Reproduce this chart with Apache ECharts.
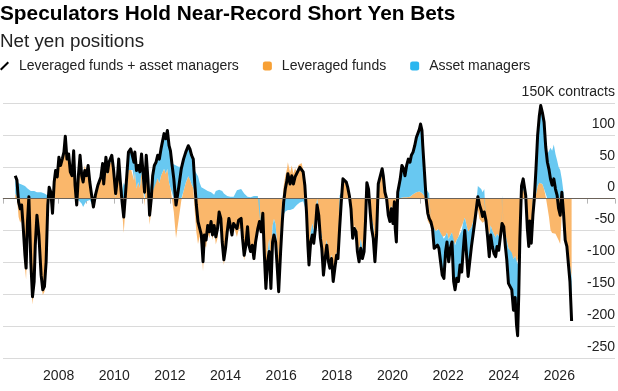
<!DOCTYPE html>
<html>
<head>
<meta charset="utf-8">
<script src="https://cdn.jsdelivr.net/npm/echarts@6/dist/echarts.min.js"></script>
<style>
  html, body { margin: 0; padding: 0; background: #fff; }
  #chart { width: 618px; height: 391px; }
</style>
</head>
<body>
<div id="chart"></div>
<script>
// net yen positions, thousands of contracts (roughly every 3 weeks)
var dates = [
  2006.44, 2006.50, 2006.56, 2006.62, 2006.67, 2006.73, 2006.79, 2006.83, 2006.88, 2006.93,
  2007.00, 2007.06, 2007.12, 2007.16, 2007.22, 2007.29, 2007.37, 2007.43, 2007.49, 2007.55,
  2007.61, 2007.66, 2007.72, 2007.78, 2007.84, 2007.89, 2007.95,
  2008.01, 2008.07, 2008.13, 2008.19, 2008.24, 2008.30, 2008.36, 2008.42, 2008.48, 2008.54,
  2008.59, 2008.65, 2008.71, 2008.77, 2008.83, 2008.88, 2008.94,
  2009.00, 2009.06, 2009.12, 2009.17, 2009.25, 2009.32, 2009.41, 2009.52, 2009.58, 2009.62,
  2009.70, 2009.76, 2009.81, 2009.91, 2009.97,
  2010.05, 2010.11, 2010.16, 2010.22, 2010.28, 2010.34, 2010.40, 2010.45, 2010.51, 2010.59,
  2010.66, 2010.71, 2010.74, 2010.80, 2010.86, 2010.92, 2010.98,
  2011.03, 2011.09, 2011.15, 2011.21, 2011.27, 2011.33, 2011.38, 2011.44, 2011.50, 2011.56,
  2011.62, 2011.68, 2011.73, 2011.79, 2011.85, 2011.91, 2011.97,
  2012.02, 2012.08, 2012.14, 2012.22, 2012.31, 2012.41, 2012.49, 2012.57, 2012.66, 2012.72,
  2012.78, 2012.84, 2012.89, 2012.95,
  2013.01, 2013.07, 2013.13, 2013.19, 2013.24, 2013.30, 2013.36, 2013.42, 2013.48, 2013.53,
  2013.59, 2013.65, 2013.71, 2013.77, 2013.83, 2013.88, 2013.94,
  2014.00, 2014.06, 2014.12, 2014.17, 2014.23, 2014.29, 2014.35, 2014.41, 2014.47, 2014.56,
  2014.61, 2014.67, 2014.73, 2014.79, 2014.84, 2014.90, 2014.96,
  2015.02, 2015.08, 2015.16, 2015.22, 2015.28, 2015.34, 2015.39, 2015.45, 2015.51, 2015.57,
  2015.63, 2015.69, 2015.74, 2015.80, 2015.86, 2015.91, 2015.98,
  2016.04, 2016.09, 2016.15, 2016.21, 2016.24, 2016.32, 2016.38, 2016.44, 2016.50, 2016.56,
  2016.61, 2016.67, 2016.73, 2016.79, 2016.85, 2016.91, 2016.96,
  2017.00, 2017.06, 2017.12, 2017.17, 2017.23, 2017.29, 2017.35, 2017.41, 2017.46, 2017.52,
  2017.58, 2017.64, 2017.70, 2017.75, 2017.81, 2017.87, 2017.93, 2017.99,
  2018.04, 2018.10, 2018.16, 2018.22, 2018.28, 2018.34, 2018.39, 2018.45, 2018.51, 2018.57,
  2018.63, 2018.69, 2018.74, 2018.80, 2018.86, 2018.92, 2018.98,
  2019.03, 2019.08, 2019.14, 2019.20, 2019.25, 2019.31, 2019.37, 2019.43, 2019.49, 2019.54,
  2019.63, 2019.67, 2019.73, 2019.79, 2019.85, 2019.91, 2019.96,
  2020.02, 2020.07, 2020.10, 2020.14, 2020.19, 2020.23, 2020.28, 2020.34, 2020.40, 2020.45,
  2020.51, 2020.57, 2020.63, 2020.68, 2020.74, 2020.80, 2020.86, 2020.92, 2020.97,
  2021.01, 2021.06, 2021.09, 2021.15, 2021.21, 2021.27, 2021.32, 2021.38, 2021.44, 2021.50,
  2021.56, 2021.62, 2021.67, 2021.73, 2021.79, 2021.85, 2021.91, 2021.96,
  2022.02, 2022.08, 2022.14, 2022.20, 2022.25, 2022.31, 2022.37, 2022.43, 2022.49, 2022.54,
  2022.60, 2022.72, 2022.84, 2022.95,
  2023.07, 2023.13, 2023.19, 2023.24, 2023.30, 2023.36, 2023.42, 2023.48, 2023.53, 2023.59,
  2023.65, 2023.71, 2023.76, 2023.82, 2023.88, 2023.94,
  2024.00, 2024.06, 2024.11, 2024.17, 2024.23, 2024.29, 2024.35, 2024.41, 2024.46, 2024.50,
  2024.54, 2024.58, 2024.64, 2024.70, 2024.79, 2024.85, 2024.90, 2024.94, 2024.99,
  2025.05, 2025.10, 2025.16, 2025.22, 2025.28, 2025.33, 2025.39, 2025.45, 2025.51, 2025.57,
  2025.63, 2025.68, 2025.74, 2025.80, 2025.86, 2025.92, 2025.97,
  2026.03, 2026.09, 2026.15, 2026.21, 2026.27, 2026.33, 2026.38, 2026.44
];

var combined = [
  36, 29, -5, -16, -10, -47, -89, -109, -36, 3,
  -99, -154, -130, -73, -26, -57, -120, -143, -138, -99,
  -10, 18, 10, -23, 26, 44, 34,
  65, 52, 62, 73, 98, 62, 70, 42, 36, 75,
  21, -10, 36, 68, 36, 26, 44,
  36, 52, 26, 10, -13, 5, 21, 34, 55, 23,
  65, 42, 57, 68, 47,
  8, 31, 62, 26, -5, -29, 5, 36, 73, 78,
  75, 57, 73, 44, 52, 42, 70,
  44, 10, 68, 31, -26, 0, 36, 52, 57, 68,
  62, 78, 89, 102, 94, 107, 83,
  75, 52, 31, -10, 16, 47, 62, 73, 83, 78,
  68, 62, 26, -10,
  -36, -34, -57, -99, -57, -65, -42, -52, -36, -57,
  -42, -60, -47, -21, -31, -68, -96,
  -78, -52, -31, -42, -57, -39, -36, -47, -34, -31,
  -62, -89, -73, -44, -73, -83, -73,
  -94, -68, -47, -36, -52, -23, -83, -141, -99, -83,
  -141, -68, -57, -68, -109, -146, -83,
  -36, -5, 16, 29, 39, 23, 36, 23, 34, 31,
  44, 49, 52, 42, 21, -21, -73,
  -104, -68, -57, -70, -47, -10, -26, -62, -78, -120,
  -94, -73, -99, -109, -94, -130, -109, -89,
  -94, -47, -5, 31, 34, 26, 18, 5, -16, -62,
  -47, -52, -83, -99, -78, -94, -83,
  -36, 25, 15, -21, -47, -62, -99, -57, 23, 26,
  47, 36, 10, 0, -26, -36, -16,
  -39, -5, -47, -68, 10, 13, 31, 52, 47, 36,
  52, 62, 57, 68, 73, 83, 96, 99, 109,
  117, 107, 83, 42, 0, -23, -31, -36, -47, -78,
  -81, -73, -78, -99, -120, -125, -83, -68,
  -99, -78, -68, -130, -143, -125, -130, -104, -115, -83,
  -50, -122, -75, -39,
  3, -10, -18, -28, -21, -34, -60, -91, -57, -75,
  -86, -91, -75, -81, -60, -39,
  -44, -75, -96, -133, -138, -143, -175, -155, -198, -215,
  -151, -62, 20, 31, 5, -47, -75, -35, -70,
  -25, 0, 47, 100, 130, 146, 135, 120, 81, 57,
  45, 31, 21, 31, 15, 5, -15,
  -26, 10, -23, -65, -75, -105, -130, -192
];

var leveragedFunds = [
  8, 3, -29, -38, -32, -67, -109, -127, -52, -11,
  -111, -166, -142, -85, -36, -67, -130, -151, -146, -105,
  -15, 13, 7, -19, 24, 42, 32,
  63, 50, 60, 70, 95, 59, 67, 39, 34, 73,
  21, -7, 38, 71, 44, 39, 52,
  40, 54, 28, 12, -11, 5, 19, 30, 51, 19,
  60, 37, 51, 62, 41,
  2, 23, 52, 16, -17, -54, -15, 14, 45, 48,
  45, 29, 43, 16, 26, 17, 42,
  19, -12, 46, 9, -41, -18, 11, 22, 25, 32,
  24, 36, 41, 47, 39, 47, 25,
  17, -3, -21, -62, -34, -3, 12, 25, 35, 30,
  22, 17, -18, -52,
  -71, -59, -75, -114, -72, -77, -54, -62, -46, -65,
  -48, -72, -62, -35, -46, -80, -104,
  -83, -56, -34, -45, -60, -42, -44, -60, -49, -46,
  -74, -97, -78, -47, -75, -85, -75,
  -98, -72, -51, -38, -52, -21, -78, -126, -84, -63,
  -116, -43, -32, -40, -79, -116, -53,
  -6, 20, 36, 47, 57, 41, 52, 39, 48, 41,
  52, 55, 56, 46, 25, -15, -63,
  -89, -53, -39, -50, -27, 0, -16, -47, -60, -102,
  -82, -65, -93, -103, -88, -124, -103, -84,
  -91, -52, -15, 23, 29, 23, 16, 5, -13, -57,
  -41, -44, -71, -84, -63, -79, -71,
  -41, 10, 3, -16, -32, -42, -79, -45, 21, 24,
  43, 32, 7, -2, -21, -26, -11,
  -24, -3, -27, -38, -5, -7, 1, 4, 2, 0,
  2, 4, 3, 6, 7, 8, 10, 11, 11,
  10, 9, 7, 4, -15, -35, -39, -36, -42, -53,
  -51, -48, -48, -54, -60, -63, -58, -53,
  -64, -58, -53, -75, -73, -65, -60, -49, -50, -38,
  -30, -52, -45, -29,
  -17, -32, -33, -38, -36, -34, -45, -61, -42, -50,
  -56, -61, -55, -59, -50, -44,
  -44, -55, -66, -78, -83, -85, -95, -90, -100, -103,
  -91, -52, 10, 16, -3, -42, -65, -35, -65,
  -30, -15, 7, 20, 25, 26, 23, 15, 3, -13,
  -30, -49, -54, -54, -55, -55, -65,
  -71, -20, -33, -60, -70, -90, -105, -122
];

var assetManagers = [
  28, 26, 24, 22, 22, 20, 20, 18, 16, 14,
  12, 12, 12, 12, 10, 10, 10, 8, 8, 6,
  5, 5, 3, -4, 2, 2, 2,
  2, 2, 2, 3, 3, 3, 3, 3, 2, 2,
  0, -3, -2, -3, -8, -13, -8,
  -4, -2, -2, -2, -2, 0, 2, 4, 4, 4,
  5, 5, 6, 6, 6,
  6, 8, 10, 10, 12, 25, 20, 22, 28, 30,
  30, 28, 30, 28, 26, 25, 28,
  25, 22, 22, 22, 15, 18, 25, 30, 32, 36,
  38, 42, 48, 55, 55, 60, 58,
  58, 55, 52, 52, 50, 50, 50, 48, 48, 48,
  46, 45, 44, 42,
  35, 25, 18, 15, 15, 12, 12, 10, 10, 8,
  6, 12, 15, 14, 15, 12, 8,
  5, 4, 3, 3, 3, 3, 8, 13, 15, 15,
  12, 8, 5, 3, 2, 2, 2,
  4, 4, 4, 2, 0, -2, -5, -15, -15, -20,
  -25, -25, -25, -28, -30, -30, -30,
  -30, -25, -20, -18, -18, -18, -16, -16, -14, -10,
  -8, -6, -4, -4, -4, -6, -10,
  -15, -15, -18, -20, -20, -10, -10, -15, -18, -18,
  -12, -8, -6, -6, -6, -6, -6, -5,
  -3, 5, 10, 8, 5, 3, 2, 0, -3, -5,
  -6, -8, -12, -15, -15, -15, -12,
  5, 15, 12, -5, -15, -20, -20, -12, 2, 2,
  4, 4, 3, 2, -5, -10, -5,
  -15, -2, -20, -30, 15, 20, 30, 48, 45, 36,
  50, 58, 54, 62, 66, 75, 86, 88, 98,
  107, 98, 76, 38, 15, 12, 8, 0, -5, -25,
  -30, -25, -30, -45, -60, -62, -25, -15,
  -35, -20, -15, -55, -70, -60, -70, -55, -65, -45,
  -20, -70, -30, -10,
  20, 22, 15, 10, 15, 0, -15, -30, -15, -25,
  -30, -30, -20, -22, -10, 5,
  0, -20, -30, -55, -55, -58, -80, -65, -98, -112,
  -60, -10, 10, 15, 8, -5, -10, 0, -5,
  5, 15, 40, 80, 105, 120, 112, 105, 78, 70,
  75, 80, 75, 85, 70, 60, 50,
  45, 30, 10, -5, -5, -15, -25, -70
];

var yearLabels = [2008, 2010, 2012, 2014, 2016, 2018, 2020, 2022, 2024, 2026];
var topTickLabel = "150K contracts";

var fontFamily = "Liberation Sans, Arial, sans-serif";

// value first, date second: keeps the stack on the y values
function pairs(values) {
  return dates.map(function (d, i) {
    return [values[i], d];
  });
}

var chart = echarts.init(document.getElementById("chart"));

var options = {
  animation: false,
  textStyle: { fontFamily: fontFamily },
  title: [
    {
      text: "Speculators Hold Near-Record Short Yen Bets",
      left: 0,
      top: 4,
      padding: 0,
      textStyle: { fontSize: 20.8, fontWeight: "bold", color: "#000", fontFamily: fontFamily },
    },
    {
      text: "Net yen positions",
      left: 0,
      top: 32,
      padding: 0,
      textStyle: { fontSize: 18.8, fontWeight: "normal", color: "#222", fontFamily: fontFamily },
    },
  ],
  legend: {
    left: 0,
    top: 59,
    padding: 0,
    itemWidth: 9,
    itemHeight: 9,
    itemGap: 24,
    selectedMode: false,
    textStyle: { fontSize: 14, color: "#222", padding: [0, 0, 0, 5] },
    data: [
      { name: "Leveraged funds + asset managers", icon: "path://M0,8.6 L7.6,1 L9,2.4 L1.4,10 Z" },
      { name: "Leveraged funds", icon: "roundRect" },
      { name: "Asset managers", icon: "roundRect" },
    ],
  },
  grid: {
    left: -6,
    right: -7,
    top: 103,
    bottom: 33,
    containLabel: false,
  },
  xAxis: {
    type: "value",
    min: 2006,
    max: 2028,
    interval: 1,
    axisLine: { show: true, lineStyle: { color: "#cfcfcf" } },
    axisTick: { show: true, length: 5, lineStyle: { color: "#b5b5b5" } },
    splitLine: { show: false },
    axisLabel: {
      margin: 11,
      fontSize: 14,
      color: "#222",
      formatter: function (v) {
        return yearLabels.indexOf(v) >= 0 ? String(v) : "";
      },
    },
  },
  yAxis: {
    type: "value",
    position: "right",
    min: -250,
    max: 150,
    interval: 50,
    axisLine: { show: false },
    axisTick: { show: false },
    splitLine: { show: true, lineStyle: { color: "#dadada", width: 1 } },
    axisLabel: {
      inside: true,
      margin: 0,
      verticalAlign: "bottom",
      padding: [0, 0, 4, 0],
      fontSize: 14,
      color: "#222",
      formatter: function (v) {
        return v === 150 ? topTickLabel : String(v);
      },
    },
  },
  series: [
    {
      name: "Leveraged funds",
      type: "line",
      stack: "net",
      stackStrategy: "samesign",
      encode: { x: 1, y: 0 },
      data: pairs(leveragedFunds),
      symbol: "none",
      showSymbol: false,
      lineStyle: { width: 0 },
      itemStyle: { color: "#F7A035" },
      areaStyle: { color: "#FAB76B", opacity: 1 },
      z: 1,
    },
    {
      name: "Asset managers",
      type: "line",
      stack: "net",
      stackStrategy: "samesign",
      encode: { x: 1, y: 0 },
      data: pairs(assetManagers),
      symbol: "none",
      showSymbol: false,
      lineStyle: { width: 0 },
      itemStyle: { color: "#2BB6EF" },
      areaStyle: { color: "#68C8F1", opacity: 1 },
      z: 2,
      markLine: {
        silent: true,
        symbol: ["none", "none"],
        label: { show: false },
        lineStyle: { color: "#6b6259", width: 1, type: "solid" },
        data: [{ yAxis: 0 }],
      },
    },
    {
      name: "Leveraged funds + asset managers",
      type: "line",
      encode: { x: 1, y: 0 },
      data: pairs(combined),
      symbol: "none",
      showSymbol: false,
      lineStyle: { color: "#000", width: 3, join: "round" },
      itemStyle: { color: "#000" },
      z: 3,
    },
  ],
};

chart.setOption(options, true);
</script>
</body>
</html>
